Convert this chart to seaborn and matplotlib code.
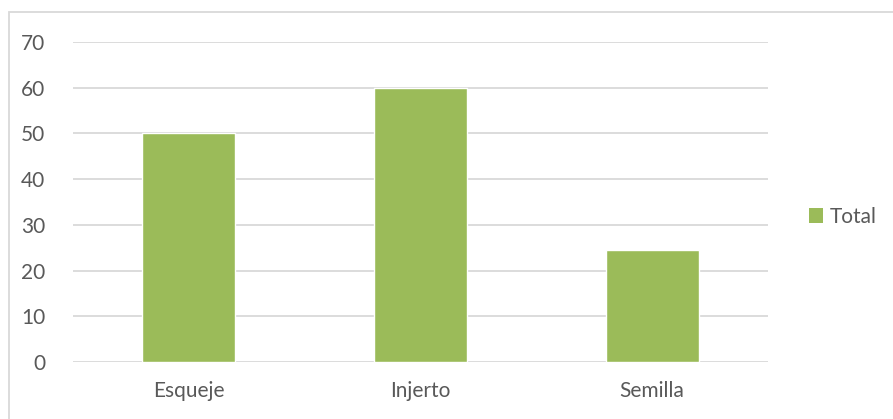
import matplotlib
matplotlib.use("Agg")
import matplotlib.pyplot as plt
import seaborn as sns
import pandas as pd
from matplotlib.patches import Rectangle, Patch

categories = ["Esqueje", "Injerto", "Semilla"]
totals = [50, 60, 24.4]
y_ticks = [0, 10, 20, 30, 40, 50, 60, 70]
series_name = "Total"

df = pd.DataFrame({"categoria": categories, "valor": totals})

sns.set_style("white")
plt.rcParams["font.family"] = ["Lato", "DejaVu Sans"]

W, H = 893, 419
fig = plt.figure(figsize=(W / 100, H / 100), dpi=100)
ax = fig.add_axes([73 / W, 1 - 362 / H, (768 - 73) / W, 320 / H])

bar_color = "#9BBB59"
text_color = "#595959"
grid_color = "#D9D9D9"

sns.barplot(data=df, x="categoria", y="valor", color=bar_color, width=0.4,
            saturation=1, ax=ax, zorder=3)

ax.set_ylim(0, 70)
ax.set_xlim(-0.5, 2.5)
ax.set_yticks(y_ticks)
ax.set_yticklabels([str(v) for v in y_ticks])
ax.yaxis.grid(True, color=grid_color, linewidth=1.3, zorder=0)
ax.set_axisbelow(True)
for s in ax.spines.values():
    s.set_visible(False)
ax.tick_params(axis="y", length=0, pad=20, labelsize=15, labelcolor=text_color)
ax.tick_params(axis="x", length=0, pad=14, labelsize=15, labelcolor=text_color)
ax.set_xlabel("")
ax.set_ylabel("")

# Chart-area frame
fig.patches.append(Rectangle((8.5 / W, -0.1), 1.2, 1 - 12.5 / H + 0.1,
                             transform=fig.transFigure, fill=False,
                             edgecolor="#D9D9D9", linewidth=1.3))

handles = [Patch(facecolor=bar_color, edgecolor="none", label=series_name)]
fig.legend(handles=handles, loc="center left", bbox_to_anchor=(790 / W, 1 - 217 / H),
           frameon=False, fontsize=15, labelcolor=text_color,
           handlelength=0.7, handleheight=0.7, handletextpad=0.3)

fig.savefig("out.png", dpi=100, facecolor="white")
